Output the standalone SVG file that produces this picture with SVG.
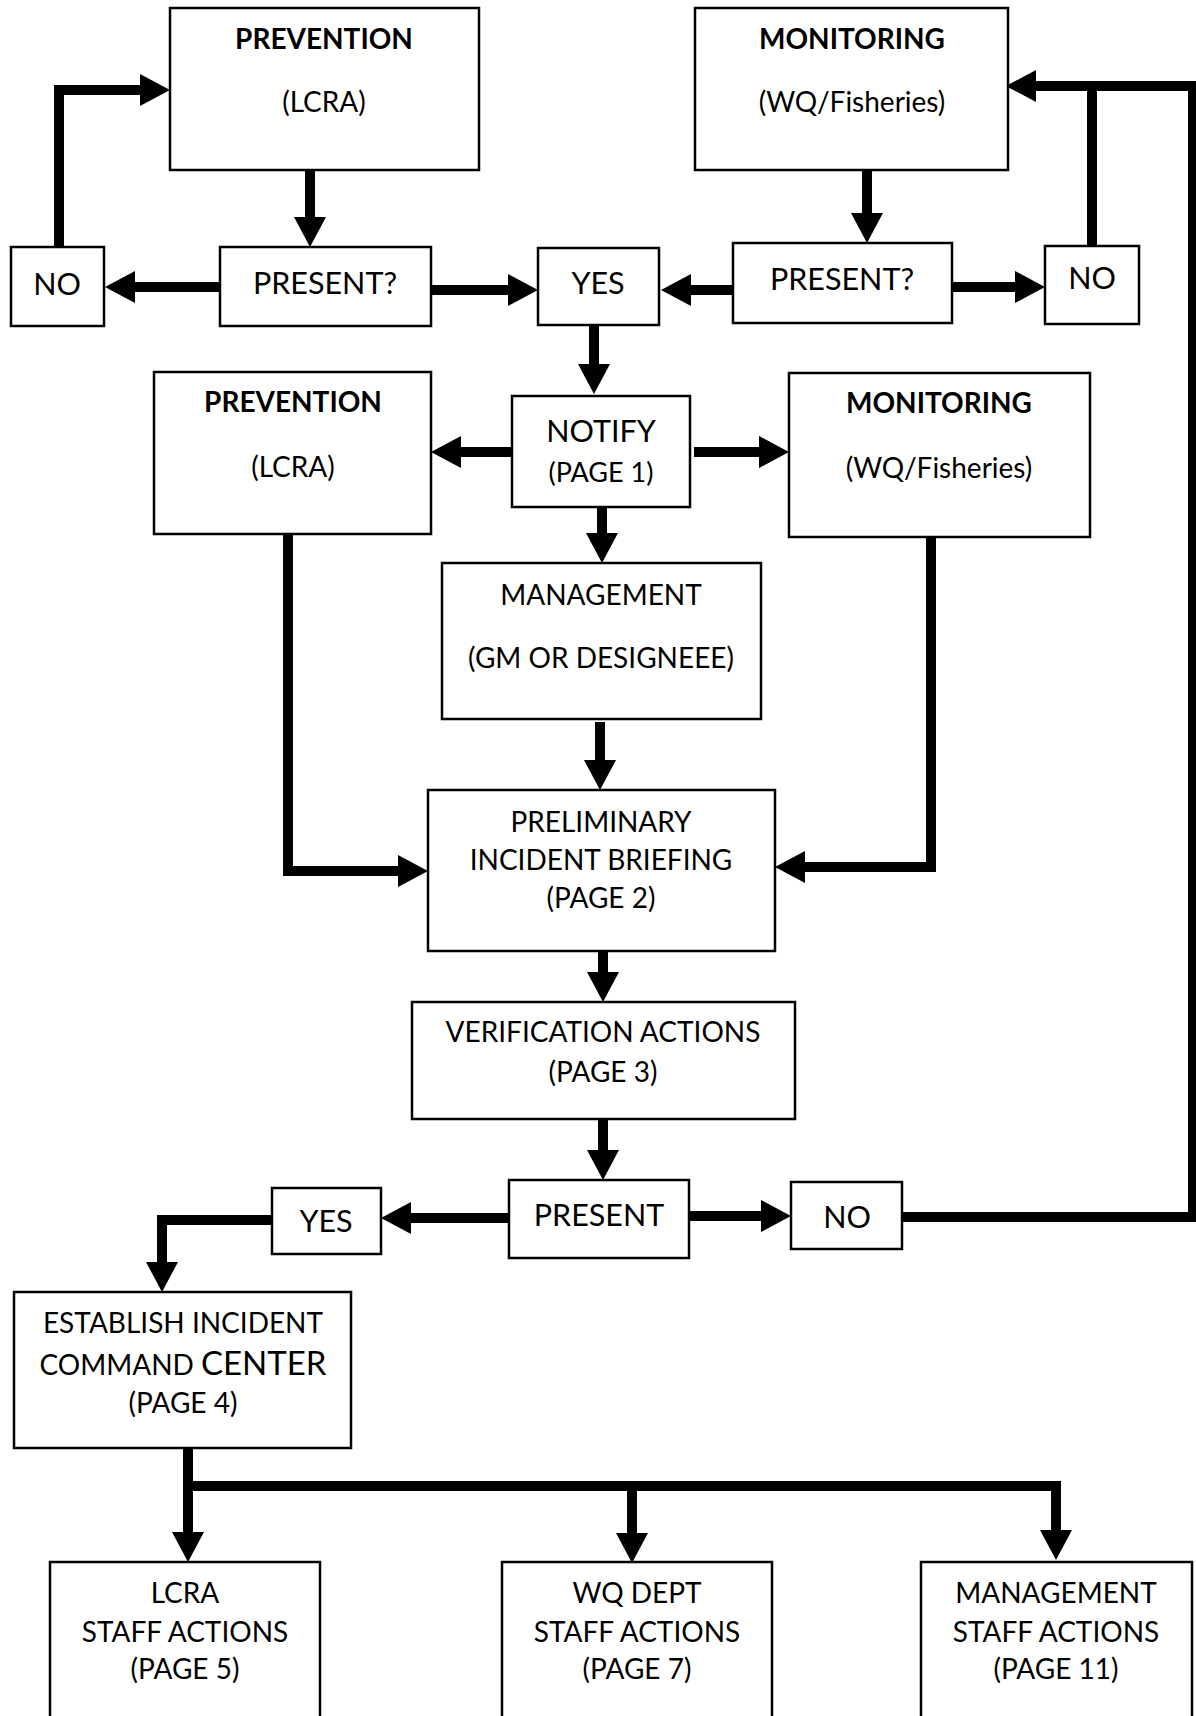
<svg xmlns="http://www.w3.org/2000/svg" width="1196" height="1716" viewBox="0 0 1196 1716">
<style>
.box{fill:#fff;stroke:#000;stroke-width:2.5}
.t{font-family:Lato,"Open Sans",sans-serif;font-size:28px;fill:#000;text-anchor:middle}
.b{font-weight:bold}
.l{font-size:30.5px}
.s{font-size:27px}
.c{fill:none;stroke:#000;stroke-width:10;stroke-linejoin:miter}
.ca{marker-end:url(#ah)}
</style>
<defs>
<marker id="ah" markerUnits="userSpaceOnUse" markerWidth="31" markerHeight="33" refX="2" refY="16" orient="auto" overflow="visible">
<path d="M0,0 L30,16 L0,32 Z" fill="#000"/>
</marker>
</defs>
<rect width="1196" height="1716" fill="#fff"/>

<g id="connectors">
<path class="c ca" d="M310,170 V219"/>
<path class="c ca" d="M220,287 H133"/>
<path class="c ca" d="M431,290 H510"/>
<path class="c ca" d="M59,255 V90 H142"/>
<path class="c ca" d="M867,170 V215"/>
<path class="c ca" d="M733,290 H689"/>
<path class="c ca" d="M952,287 H1017"/>
<path class="c" d="M1092,246 V86"/>
<path class="c ca" d="M902,1217 H1193 V86 H1034"/>
<path class="c ca" d="M594,325 V366"/>
<path class="c ca" d="M512,452 H459"/>
<path class="c ca" d="M694,452 H761"/>
<path class="c ca" d="M602,507 V535"/>
<path class="c ca" d="M288,530 V871 H400"/>
<path class="c ca" d="M931,531 V867 H803"/>
<path class="c ca" d="M600,722 V762"/>
<path class="c ca" d="M603,951 V974"/>
<path class="c ca" d="M603,1119 V1152"/>
<path class="c ca" d="M509,1218 H409"/>
<path class="c ca" d="M689,1216 H763"/>
<path class="c ca" d="M272,1220 H162 V1264"/>
<path class="c ca" d="M188,1449 V1534"/>
<path class="c ca" d="M188,1486 H1056 V1532"/>
<path class="c ca" d="M632,1486 V1535"/>
</g>

<g id="prevention-top">
<rect class="box" x="170" y="8" width="309" height="162"/>
<text class="t b" x="324" y="49">PREVENTION</text>
<text class="t" x="324" y="112">(LCRA)</text>
</g>
<g id="monitoring-top">
<rect class="box" x="695" y="8" width="313" height="162"/>
<text class="t b" x="852" y="49">MONITORING</text>
<text class="t" x="852" y="112">(WQ/Fisheries)</text>
</g>
<g id="no-left">
<rect class="box" x="11" y="247" width="93" height="79"/>
<text class="t l" x="57" y="295">NO</text>
</g>
<g id="present-left">
<rect class="box" x="220" y="247" width="211" height="79"/>
<text class="t l" x="325" y="294">PRESENT?</text>
</g>
<g id="yes-top">
<rect class="box" x="538" y="248" width="121" height="77"/>
<text class="t l" x="598" y="294">YES</text>
</g>
<g id="present-right">
<rect class="box" x="733" y="243" width="219" height="80"/>
<text class="t l" x="842" y="290">PRESENT?</text>
</g>
<g id="no-right">
<rect class="box" x="1045" y="246" width="94" height="78"/>
<text class="t l" x="1092" y="289">NO</text>
</g>
<g id="prevention-mid">
<rect class="box" x="154" y="372" width="277" height="162"/>
<text class="t b" x="293" y="412">PREVENTION</text>
<text class="t" x="293" y="477">(LCRA)</text>
</g>
<g id="notify">
<rect class="box" x="512" y="396" width="178" height="111"/>
<text class="t l" x="601" y="442">NOTIFY</text>
<text class="t s" x="601" y="482">(PAGE 1)</text>
</g>
<g id="monitoring-mid">
<rect class="box" x="789" y="373" width="301" height="164"/>
<text class="t b" x="939" y="413">MONITORING</text>
<text class="t" x="939" y="478">(WQ/Fisheries)</text>
</g>
<g id="management">
<rect class="box" x="442" y="563" width="319" height="156"/>
<text class="t" x="601" y="605">MANAGEMENT</text>
<text class="t" x="601" y="668">(GM OR DESIGNEEE)</text>
</g>
<g id="preliminary">
<rect class="box" x="428" y="790" width="347" height="161"/>
<text class="t" x="601" y="832">PRELIMINARY</text>
<text class="t" x="601" y="870">INCIDENT BRIEFING</text>
<text class="t" x="601" y="908">(PAGE 2)</text>
</g>
<g id="verification">
<rect class="box" x="412" y="1002" width="383" height="117"/>
<text class="t" x="603" y="1042">VERIFICATION ACTIONS</text>
<text class="t" x="603" y="1082">(PAGE 3)</text>
</g>
<g id="present-bottom">
<rect class="box" x="509" y="1180" width="180" height="78"/>
<text class="t l" x="599" y="1226">PRESENT</text>
</g>
<g id="yes-bottom">
<rect class="box" x="272" y="1188" width="109" height="66"/>
<text class="t l" x="326" y="1232">YES</text>
</g>
<g id="no-bottom">
<rect class="box" x="791" y="1182" width="111" height="67"/>
<text class="t l" x="847" y="1228">NO</text>
</g>
<g id="establish">
<rect class="box" x="14" y="1292" width="337" height="156"/>
<text class="t" x="183" y="1333">ESTABLISH INCIDENT</text>
<text class="t" x="183" y="1375">COMMAND <tspan font-size="33">CENTER</tspan></text>
<text class="t" x="183" y="1413">(PAGE 4)</text>
</g>
<g id="lcra-staff">
<rect class="box" x="50" y="1562" width="270" height="200"/>
<text class="t" x="185" y="1603">LCRA</text>
<text class="t" x="185" y="1642">STAFF ACTIONS</text>
<text class="t" x="185" y="1679">(PAGE 5)</text>
</g>
<g id="wq-staff">
<rect class="box" x="502" y="1562" width="270" height="200"/>
<text class="t" x="637" y="1603">WQ DEPT</text>
<text class="t" x="637" y="1642">STAFF ACTIONS</text>
<text class="t" x="637" y="1679">(PAGE 7)</text>
</g>
<g id="management-staff">
<rect class="box" x="921" y="1562" width="271" height="200"/>
<text class="t" x="1056" y="1603">MANAGEMENT</text>
<text class="t" x="1056" y="1642">STAFF ACTIONS</text>
<text class="t" x="1056" y="1679">(PAGE 11)</text>
</g>
</svg>
